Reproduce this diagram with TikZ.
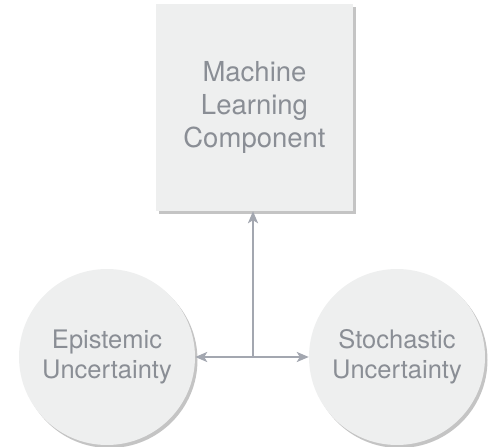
\documentclass[tikz,border=0pt]{standalone}
\usepackage{fontspec}
\setmainfont{TeX Gyre Heros}
\usetikzlibrary{arrows.meta,shadows}
\definecolor{boxfill}{HTML}{EEEFEF}
\definecolor{txtgray}{HTML}{8A8E95}
\definecolor{linegray}{HTML}{A3A7B0}
\definecolor{shadowgray}{HTML}{C4C4C4}
\tikzset{
  blob/.style={fill=boxfill, draw=none, text=txtgray, align=center,
    drop shadow={shadow xshift=2.5pt, shadow yshift=-3pt, fill=shadowgray, opacity=1}},
  mlbox/.style={blob, rectangle, minimum width=197pt, minimum height=207pt,
    font=\fontsize{27.5}{33}\selectfont},
  unc/.style={blob, circle, minimum size=176pt, inner sep=0pt,
    font=\fontsize{25.5}{30}\selectfont},
  link/.style={linegray, line width=2.2pt, -{Stealth[length=12pt, width=10pt, inset=3pt]}}
}
\begin{document}
\begin{tikzpicture}[x=1pt,y=1pt]
  \useasboundingbox (0,0) rectangle (488,447);
  \node[mlbox] (ml) at (254.5,339.5) {Machine\\Learning\\Component};
  \node[unc] (epi) at (107,90) {Epistemic\\Uncertainty};
  \node[unc] (sto) at (397,90) {Stochastic\\Uncertainty};
  \coordinate (hub) at (253,90);
  \draw[link] (hub) -- (ml.south -| hub);
  \draw[link] (hub) -- (epi.east);
  \draw[link] (hub) -- (sto.west);
\end{tikzpicture}
\end{document}
